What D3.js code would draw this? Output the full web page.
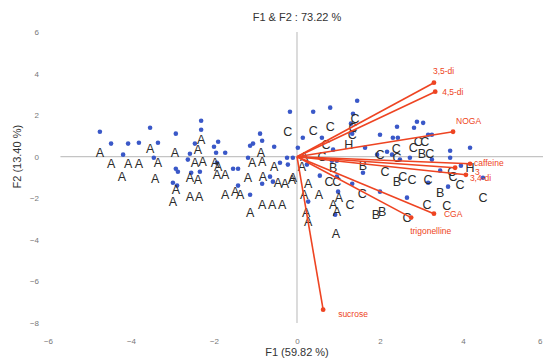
<!DOCTYPE html>
<html>
<head>
<meta charset="utf-8">
<script src="https://cdn.jsdelivr.net/npm/d3@7"></script>
<style>
  body { margin: 0; background: #fff; }
  text { font-family: "Liberation Sans", Arial, sans-serif; }
</style>
</head>
<body>
<div id="chart"></div>
<script>
// observations (F1, F2)
var bluePoints = [
  [-4.75, 1.20], [-4.48, 0.63], [-4.07, 0.63], [-3.81, 0.67], [-3.54, 1.39], [-3.35, 0.67],
  [-4.19, 0.10], [-3.45, -0.05], [-2.92, 1.11], [-2.92, -0.58], [-2.99, -1.25], [-2.31, 1.73],
  [-2.31, 1.30], [-2.46, 0.63], [-1.90, 0.72], [-2.00, 0.48], [-1.73, 0.19], [-2.58, 0.14],
  [-2.63, -0.14], [-2.34, -0.72], [-2.87, -0.72], [-2.55, -0.77], [-1.54, -0.58], [-1.42, -0.58],
  [-1.95, 0.19], [-0.89, 1.11], [-0.84, 0.77], [-1.06, 0.63], [-1.13, 0.53], [-0.55, 0.48],
  [-0.17, 2.16], [-1.18, -0.05], [-0.24, -0.05], [-0.10, -0.05], [-0.41, -0.29], [-0.22, -0.38],
  [-0.65, -0.96], [-0.84, -1.30], [-0.58, -1.20], [-1.13, -1.83], [-1.42, -1.39], [-1.93, -0.29],
  [0.02, 0.43], [-2.89, -1.39], [1.45, 2.69], [0.39, 2.16], [0.80, 2.36], [1.35, 2.07],
  [0.14, 0.91], [0.60, 0.91], [1.30, 1.59], [1.33, 1.11], [2.00, 1.06], [2.41, 1.44],
  [2.31, 0.91], [2.43, 0.91], [0.87, 0.34], [1.64, 0.43], [0.84, -0.19], [0.96, -0.19],
  [0.24, -0.38], [0.55, -0.91], [0.96, -0.96], [1.59, -0.77], [1.33, -1.30], [2.00, -1.68],
  [0.99, -1.68], [0.27, -2.16], [0.92, -2.79], [2.17, 0.24], [2.48, -0.14], [1.93, 0.10],
  [2.29, 0.10], [2.65, -1.97], [2.89, 1.68], [3.04, 1.63], [2.82, 1.39], [3.16, 1.06],
  [3.25, 1.06], [3.69, 0.29], [3.69, -0.05], [4.17, 0.43], [2.72, -0.05], [3.25, -0.14],
  [3.95, -0.43], [3.45, -0.67], [3.16, -1.25], [3.64, -1.44], [4.48, -1.01]
];

var groupA = [
  [-4.75, 0.19], [-4.48, -0.34], [-4.07, -0.34], [-3.81, -0.34], [-4.22, -0.96], [-3.54, 0.38],
  [-3.35, -0.29], [-3.42, -1.06], [-2.94, 0.19], [-2.92, -1.59], [-2.99, -2.16], [-2.31, 0.82],
  [-2.39, 0.34], [-2.46, -0.29], [-2.27, -0.24], [-2.58, -1.01], [-2.39, -1.11], [-1.98, -0.29],
  [-1.93, -0.87], [-1.73, -0.87], [-1.90, -0.48], [-0.87, 0.19], [-1.08, -0.29], [-0.84, -0.24],
  [-0.55, -0.48], [-1.18, -1.01], [-0.82, -0.96], [-0.46, -1.25], [-0.29, -1.30], [-0.12, -1.11],
  [-2.58, -1.92], [-2.36, -1.92], [-1.73, -1.83], [-1.49, -1.68], [-1.37, -1.83], [-0.84, -2.31],
  [-0.60, -2.31], [-0.36, -2.31], [-1.13, -2.69], [0.17, 0.00], [0.12, -0.48], [-0.10, -1.01],
  [0.27, -1.30], [0.53, -1.83], [0.17, -1.83], [1.01, -1.97], [0.87, -2.31], [0.96, -2.64],
  [0.22, -2.69], [0.27, -3.13], [0.94, -3.70]
];

var groupB = [
  [0.87, -0.53], [1.59, -0.43], [1.90, -2.79], [2.05, -2.64], [2.41, -1.20], [3.01, 0.14],
  [3.45, -1.73]
];

var groupC = [
  [-0.22, 1.20], [0.39, 1.25], [0.80, 1.44], [1.40, 1.83], [1.35, 1.39], [1.33, 1.06],
  [0.70, 0.58], [0.60, 0.00], [0.77, -1.20], [0.96, -1.20], [1.28, -2.31], [1.57, -1.78],
  [2.00, 0.10], [2.39, 0.38], [2.41, -0.05], [2.55, -0.96], [2.65, -2.93], [2.92, 0.72],
  [3.08, 0.72], [2.80, 0.43], [3.20, 0.14], [2.77, -1.11], [3.16, -1.11], [3.93, -1.35],
  [3.13, -2.31], [3.61, -2.36], [4.48, -1.97], [2.12, -0.72], [3.73, -0.72], [3.76, -0.96]
];

var groupH = [[1.25, 0.58], [4.17, -0.53]];

// variables (loadings, scaled)
var varNames = ["3,5-di", "4,5-di", "NOGA", "caffeine", "3", "3,4-di", "CGA", "trigonelline", "sucrose"];
var varX = [3.30, 3.33, 3.76, 4.17, 3.81, 4.07, 3.30, 2.75, 0.63];
var varY = [3.56, 3.13, 1.20, -0.34, -0.53, -0.87, -2.74, -2.93, -7.36];

var xTicks = [-6, -4, -2, 0, 2, 4, 6];
var yTicks = [6, 4, 2, 0, -2, -4, -6, -8];

var width = 543, height = 360;
var red = "#ee4422";

var svg = d3.select("#chart")
    .append("svg")
    .attr("width", width)
    .attr("height", height);

var x = d3.scaleLinear().domain([-6, 6]).range([48, 546]);
var y = d3.scaleLinear().domain([-8, 6]).range([323, 32]);

// cross at origin
svg.append("line")
    .attr("x1", x(-5.7)).attr("x2", x(6))
    .attr("y1", y(0)).attr("y2", y(0))
    .style("stroke", "#c4c4c4").style("stroke-width", 1.2);
svg.append("line")
    .attr("x1", x(0)).attr("x2", x(0))
    .attr("y1", y(6)).attr("y2", y(-8))
    .style("stroke", "#c4c4c4").style("stroke-width", 1.2);

// tick labels
var xAxis = svg.append("g")
    .attr("transform", "translate(0," + 338 + ")")
    .call(d3.axisBottom(x).tickValues(xTicks).tickSize(0).tickPadding(0));
xAxis.select(".domain").remove();
xAxis.selectAll("text").style("font-size", "8px").style("fill", "#777")
    .attr("text-anchor", (d) => d == 6 ? "end" : "middle")
    .attr("dx", (d) => d == 6 ? "-4" : "0");

var yAxis = svg.append("g")
    .attr("transform", "translate(39,0)")
    .call(d3.axisLeft(y).tickValues(yTicks).tickSize(0).tickPadding(0));
yAxis.select(".domain").remove();
yAxis.selectAll("text").style("font-size", "8px").style("fill", "#777");

// blue dots
svg.append("g")
    .selectAll("circle")
    .data(bluePoints)
    .enter().append("circle")
    .attr("cx", (d) => x(d[0]))
    .attr("cy", (d) => y(d[1]))
    .attr("r", 2.3)
    .style("fill", "#3a58c8");

// letters
var groups = [["A", groupA], ["B", groupB], ["C", groupC], ["H", groupH]];
groups.forEach((g) => {
    svg.append("g")
        .selectAll("text")
        .data(g[1])
        .enter().append("text")
        .attr("x", (d) => x(d[0]))
        .attr("y", (d) => y(d[1]))
        .attr("text-anchor", "middle")
        .attr("dy", "0.36em")
        .text(g[0])
        .style("font-size", "12.5px")
        .style("fill", "#2a2a2a");
});

// vectors
var vars = varNames.map((n, i) => ({ name: n, x: varX[i], y: varY[i] }));
var labelOffset = {
    "3,5-di": [-1, -9, "start"], "4,5-di": [7, 3, "start"], "NOGA": [3, -8, "start"],
    "caffeine": [4, 2, "start"], "3": [20, 7, "start"], "3,4-di": [4, 6, "start"],
    "CGA": [10, 3, "start"], "trigonelline": [-1, 16, "start"], "sucrose": [15, 7, "start"]
};

svg.append("g")
    .selectAll("line")
    .data(vars)
    .enter().append("line")
    .attr("x1", x(0)).attr("y1", y(0))
    .attr("x2", (d) => x(d.x)).attr("y2", (d) => y(d.y))
    .style("stroke", red).style("stroke-width", 1.6);

svg.append("g")
    .selectAll("circle")
    .data(vars)
    .enter().append("circle")
    .attr("cx", (d) => x(d.x)).attr("cy", (d) => y(d.y))
    .attr("r", 2.4)
    .style("fill", red);

svg.append("g")
    .selectAll("text")
    .data(vars)
    .enter().append("text")
    .attr("x", (d) => x(d.x) + labelOffset[d.name][0])
    .attr("y", (d) => y(d.y) + labelOffset[d.name][1])
    .attr("text-anchor", (d) => labelOffset[d.name][2])
    .text((d) => d.name)
    .style("font-size", "8.5px")
    .style("fill", red);

// titles
svg.append("text")
    .attr("x", x(0)).attr("y", 21)
    .attr("text-anchor", "middle")
    .text("F1 & F2 : 73.22 %")
    .style("font-size", "11px")
    .style("fill", "#333");

svg.append("text")
    .attr("x", x(0)).attr("y", 356)
    .attr("text-anchor", "middle")
    .text("F1 (59.82 %)")
    .style("font-size", "11px")
    .style("fill", "#333");

svg.append("text")
    .attr("transform", "translate(21," + y(0) + ") rotate(-90)")
    .attr("text-anchor", "middle")
    .text("F2 (13.40 %)")
    .style("font-size", "11px")
    .style("fill", "#333");
</script>
</body>
</html>
